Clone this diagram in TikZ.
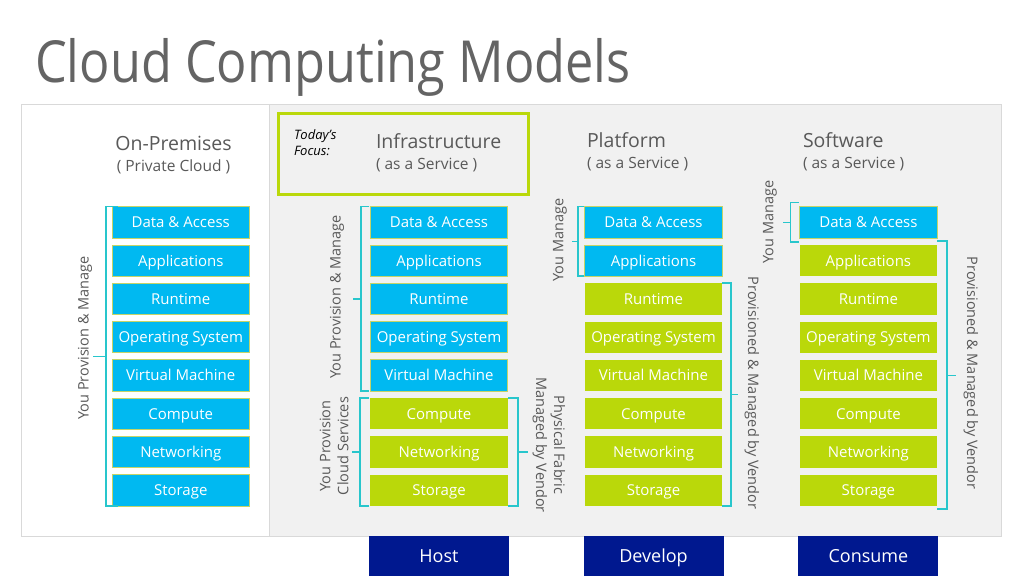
\documentclass[tikz,border=0pt]{standalone}
\usepackage{fontspec}
\setmainfont{Open Sans}
\usepackage{graphicx}
\usepackage{xcolor}
\definecolor{skyblue}{RGB}{0,185,241}
\definecolor{lime}{RGB}{186,216,10}
\definecolor{navy}{RGB}{0,24,143}
\definecolor{bracket}{RGB}{40,198,204}
\definecolor{txtgray}{RGB}{89,89,89}
\definecolor{ttlgray}{RGB}{100,100,100}
\definecolor{panelgray}{RGB}{241,241,241}
\definecolor{edgegray}{RGB}{217,217,217}
\definecolor{rim}{RGB}{196,212,104}
\usepackage{tikz}
\usetikzlibrary{positioning}
\usetikzlibrary{calc}

\begin{document}
\begin{tikzpicture}[x=1pt,y=-1pt,node distance=7pt,every node/.style={inner sep=2,outer sep=0},
	box/.style={minimum width=137.5,minimum height=31.3,text height=10.8,text depth=0,text=white,font=\fontsize{15}{17}\selectfont},
	blu/.style={box,fill=skyblue,draw=rim,line width=0.8},
	grn/.style={box,fill=lime},
	nav/.style={fill=navy,minimum width=140,minimum height=40,text height=13.5,text depth=0,text=white,font=\fontsize{18}{20}\selectfont},
	head/.style={text=txtgray,font=\fontsize{19.5}{22}\selectfont},
	sub/.style={text=txtgray,font=\fontsize{15.5}{18}\selectfont},
	lbl/.style={text=txtgray,align=center,font=\fontsize{14.5}{18}\selectfont},
	brk/.style={draw=bracket,line width=1.6}]
	\useasboundingbox (0,0) rectangle (1024,576);
	\fill[white] (0,0) rectangle (1024,576);
	% panels
	\draw[edgegray,fill=white] (21,104) rectangle (269,536);
	\draw[edgegray,fill=panelgray] (269,104) rectangle (1001,536);
	\draw[lime,line width=3] (278,113) rectangle (528,194);
	% titles
	\node (ttl) [anchor=base west,text=ttlgray,font=\fontsize{58}{60}\selectfont] at (33,82) {\scalebox{0.87}[1]{Cloud Computing Models}};
	\node (onp) [head,anchor=base] at (173.5,150) {On-Premises};
	\node (onps) [sub,anchor=base] at (173.5,171) {( Private Cloud )};
	\node (tf1) [anchor=base west,font=\fontsize{13}{16}\selectfont\itshape] at (292,139) {Today’s};
	\node (tf2) [anchor=base west,font=\fontsize{13}{16}\selectfont\itshape] at (292,155) {Focus:};
	\node (iaas) [head,anchor=base west] at (374,148) {Infrastructure};
	\node (iaass) [sub,anchor=base west] at (374,169) {( as a Service )};
	\node (paas) [head,anchor=base west] at (585,147) {Platform};
	\node (paass) [sub,anchor=base west] at (585,168) {( as a Service )};
	\node (saas) [head,anchor=base west] at (801,147) {Software};
	\node (saass) [sub,anchor=base west] at (801,168) {( as a Service )};
	% on-premises stack
	\node (da1) [blu] at (180.75,222.3) {Data \& Access};
	\node (ap1) [blu,below=of da1] {Applications};
	\node (rt1) [blu,below=of ap1] {Runtime};
	\node (os1) [blu,below=of rt1] {Operating System};
	\node (vm1) [blu,below=of os1] {Virtual Machine};
	\node (cp1) [blu,below=of vm1] {Compute};
	\node (nw1) [blu,below=of cp1] {Networking};
	\node (st1) [blu,below=of nw1] {Storage};
	% iaas stack
	\node (da2) [blu] at (439,222.3) {Data \& Access};
	\node (ap2) [blu,below=of da2] {Applications};
	\node (rt2) [blu,below=of ap2] {Runtime};
	\node (os2) [blu,below=of rt2] {Operating System};
	\node (vm2) [blu,below=of os2] {Virtual Machine};
	\node (cp2) [grn,below=of vm2] {Compute};
	\node (nw2) [grn,below=of cp2] {Networking};
	\node (st2) [grn,below=of nw2] {Storage};
	% paas stack
	\node (da3) [blu] at (653.5,222.3) {Data \& Access};
	\node (ap3) [blu,below=of da3] {Applications};
	\node (rt3) [grn,below=of ap3] {Runtime};
	\node (os3) [grn,below=of rt3] {Operating System};
	\node (vm3) [grn,below=of os3] {Virtual Machine};
	\node (cp3) [grn,below=of vm3] {Compute};
	\node (nw3) [grn,below=of cp3] {Networking};
	\node (st3) [grn,below=of nw3] {Storage};
	% saas stack
	\node (da4) [blu] at (868.4,222.3) {Data \& Access};
	\node (ap4) [grn,below=of da4] {Applications};
	\node (rt4) [grn,below=of ap4] {Runtime};
	\node (os4) [grn,below=of rt4] {Operating System};
	\node (vm4) [grn,below=of os4] {Virtual Machine};
	\node (cp4) [grn,below=of vm4] {Compute};
	\node (nw4) [grn,below=of cp4] {Networking};
	\node (st4) [grn,below=of nw4] {Storage};
	% bottom
	\node (host) [nav,below=29.5pt of st2] {Host};
	\node (dev) [nav,below=29.5pt of st3] {Develop};
	\node (cons) [nav,below=29.5pt of st4] {Consume};
	% brackets
	\draw[brk] ([xshift=6pt]da1.north west) -- ++(-12,0) |- ([xshift=6pt]st1.south west);
	\draw[brk] ($(da1.north west)!.5!(st1.south west)$) ++(-6,0) -- ++(-13,0);
	\draw[brk] ([xshift=-1pt]da2.north west) -- ++(-8.5,0) |- ([xshift=-1pt]vm2.south west);
	\draw[brk] ($(da2.north west)!.5!(vm2.south west)$) ++(-9.5,0) -- ++(-8,0);
	\draw[brk] ([xshift=-1pt]cp2.north west) -- ++(-9,0) |- ([xshift=-1pt]st2.south west);
	\draw[brk] ($(cp2.north west)!.5!(st2.south west)$) ++(-10,0) -- ++(-8,0);
	\draw[brk] (cp2.north east) -- ++(10,0) |- (st2.south east);
	\draw[brk] ($(cp2.north east)!.5!(st2.south east)$) ++(10,0) -- ++(10,0);
	\draw[brk] ([xshift=-1pt]da3.north west) -- ++(-6,0) |- ([xshift=-1pt]ap3.south west);
	\draw[brk] ($(da3.north west)!.5!(ap3.south west)$) ++(-7,0) -- ++(-6,0);
	\draw[brk] (rt3.north east) -- ++(9,0) |- (st3.south east);
	\draw[brk] ($(rt3.north east)!.5!(st3.south east)$) ++(9,0) -- ++(7,0);
	\draw[brk] ([xshift=-1pt,yshift=4pt]da4.north west) -- ++(-8,0) |- ([xshift=-1pt,yshift=-4pt]da4.south west);
	\draw[brk] (da4.west) ++(-9,0) -- ++(-8,0);
	\draw[brk] ([yshift=4pt]ap4.north east) -- ++(10,0) |- ([yshift=-3pt]st4.south east);
	\draw[brk] ($(ap4.north east)!.5!(st4.south east)$) ++(10,0) -- ++(9,0);
	% bracket labels
	\node (l1) [lbl,rotate=90] at (85,338) {You Provision \& Manage};
	\node (l2) [lbl,rotate=90] at (337,297) {You Provision \& Manage};
	\node (l3) [lbl,rotate=90] at (334,446) {You Provision\\Cloud Services};
	\node (l4) [lbl,rotate=-90] at (549,445) {Physical Fabric\\Managed by Vendor};
	\node (l5) [lbl,rotate=90] at (560,240) {You Manage};
	\node (l6) [lbl,rotate=-90] at (752,393) {Provisioned \& Managed by Vendor};
	\node (l7) [lbl,rotate=90] at (770,222) {You Manage};
	\node (l8) [lbl,rotate=-90] at (971,373) {Provisioned \& Managed by Vendor};
\end{tikzpicture}
\end{document}
